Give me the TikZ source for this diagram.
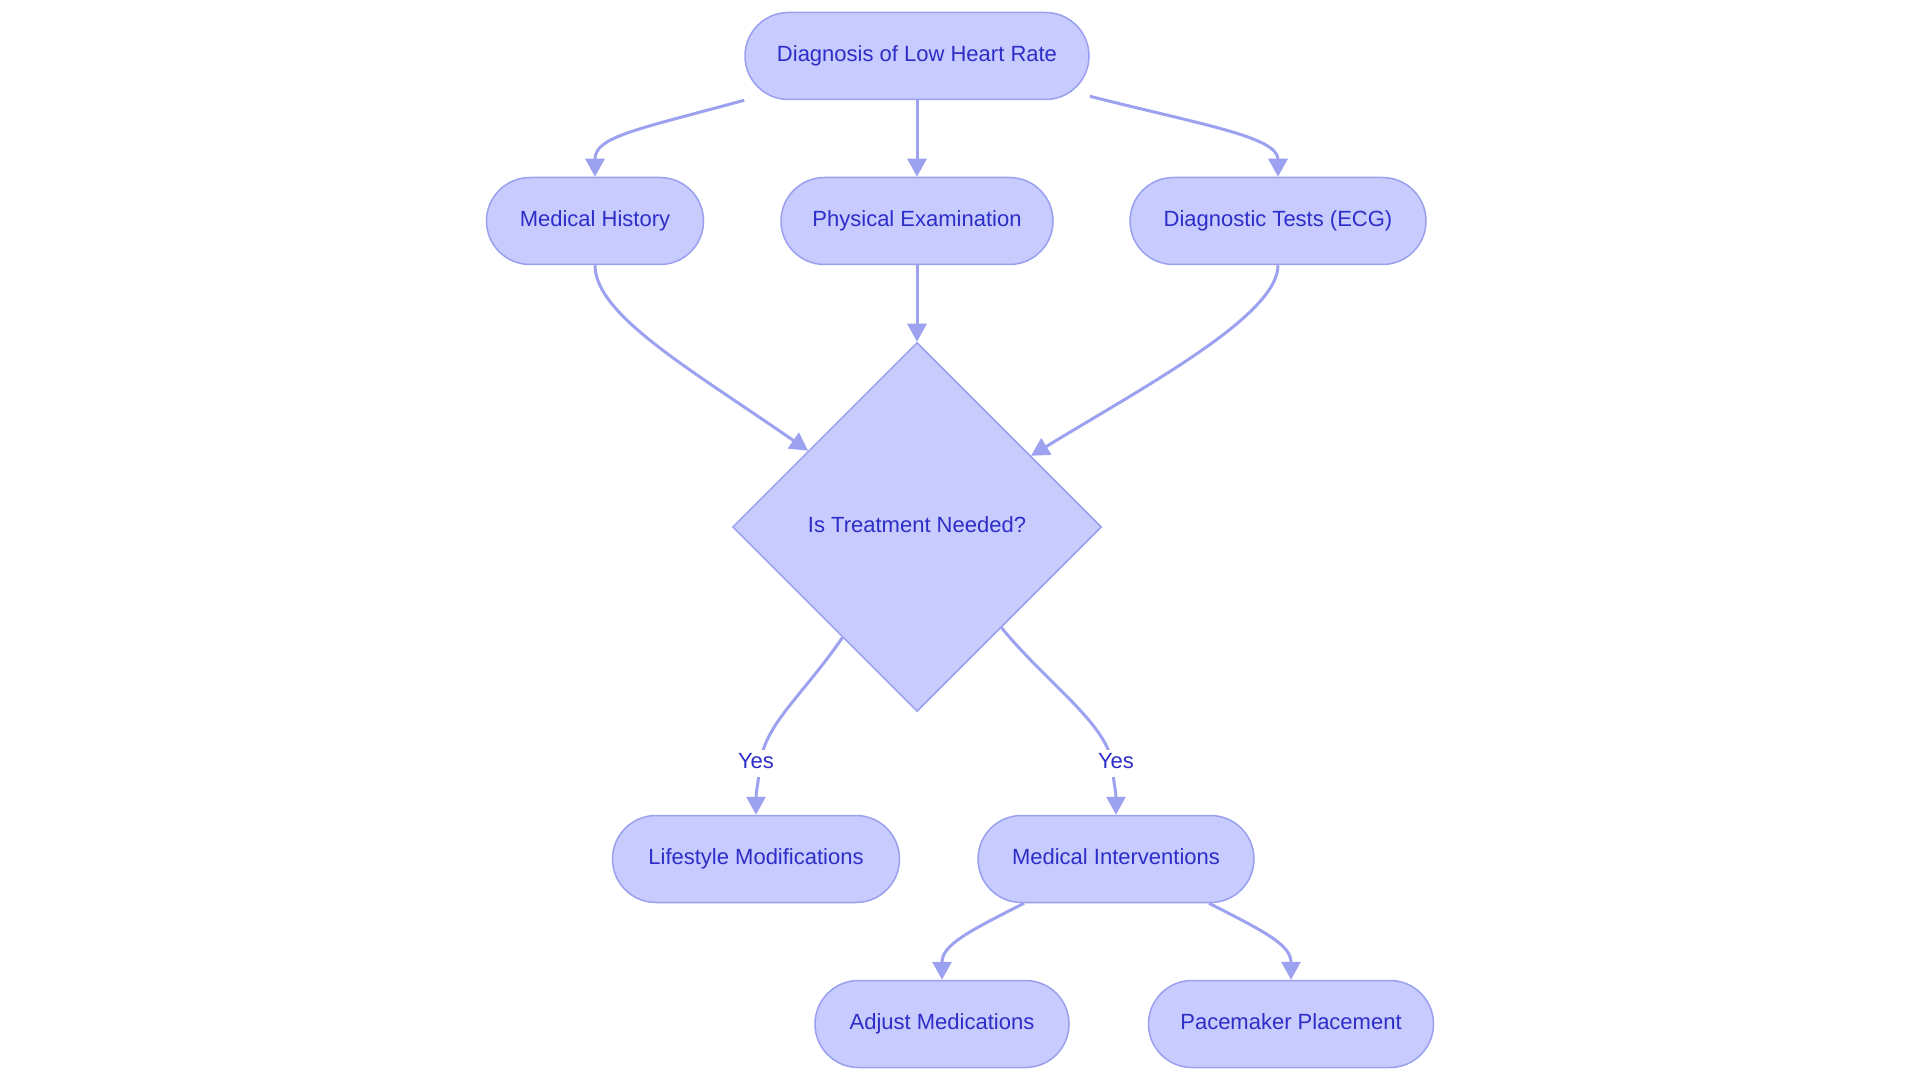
\documentclass[tikz,border=0pt]{standalone}
\usepackage{fontspec}
\setmainfont{Liberation Sans}
\usetikzlibrary{shapes.geometric, arrows.meta, positioning}
\definecolor{nodefill}{RGB}{200,203,253}
\definecolor{nodeline}{RGB}{154,160,240}
\definecolor{nodetext}{RGB}{45,45,200}
\definecolor{edgeline}{RGB}{157,162,240}

\begin{document}
\begin{tikzpicture}[
                        x=1pt, y=-1pt,
                        every node/.style={font=\fontsize{22}{26}\selectfont, text=nodetext, text height=16pt, text depth=5pt},
                        pill/.style={rectangle, rounded corners=43.5pt, draw=nodeline, fill=nodefill, line width=1.5pt, minimum height=87pt, inner sep=0pt},
                        decision/.style={diamond, aspect=1, draw=nodeline, fill=nodefill, line width=1.5pt, minimum width=369pt, minimum height=369pt, inner sep=0pt},
                        link/.style={draw=edgeline, line width=3pt, -{Triangle[width=19pt,length=18pt]}},
                        yeslbl/.style={fill=white, inner sep=3pt}
                        ]

                        \fill[white] (0,0) rectangle (1920,1083);
                        \useasboundingbox (0,0) rectangle (1920,1083);

                        % nodes
                        \node[pill, minimum width=344pt] (diag) at (917,56) {Diagnosis of Low Heart Rate};
                        \node[pill, minimum width=217pt] (hist) at (595,221) {Medical History};
                        \node[pill, minimum width=272pt] (exam) at (917,221) {Physical Examination};
                        \node[pill, minimum width=296pt] (tests) at (1278,221) {Diagnostic Tests (ECG)};
                        \node[decision] (need) at (917,527) {Is Treatment Needed?};
                        \node[pill, minimum width=287pt] (life) at (756,859) {Lifestyle Modifications};
                        \node[pill, minimum width=276pt] (interv) at (1116,859) {Medical Interventions};
                        \node[pill, minimum width=254pt] (meds) at (942,1024) {Adjust Medications};
                        \node[pill, minimum width=285pt] (pace) at (1291,1024) {Pacemaker Placement};
                        \coordinate (yesL) at (756,763);
                        \coordinate (yesR) at (1116,763);
                        \coordinate (viaL) at (760,763);
                        \coordinate (viaR) at (1112,763);

                        % connectors
                        \draw[link] (diag.south west) .. controls +(-110,30) and +(0,-40) .. (hist.north);
                        \draw[link] (diag.south) -- (exam.north);
                        \draw[link] ([yshift=4pt]diag.south east) .. controls +(110,28) and +(0,-40) .. (tests.north);
                        \draw[link] (hist.south) .. controls +(0,50) and +(-115,-80) .. (need.145);
                        \draw[link] (exam.south) -- (need.north);
                        \draw[link] (tests.south) .. controls +(0,50) and +(115,-70) .. (need.32);
                        \draw[link] (need.236) .. controls +(-40,58) and +(6,-40) .. (viaL) .. controls +(-2,25) and +(0,-25) .. (life.north);
                        \draw[link] (need.-50) .. controls +(45,55) and +(-6,-40) .. (viaR) .. controls +(2,25) and +(0,-25) .. (interv.north);
                        \draw[link] ([xshift=-92pt]interv.south) .. controls +(-55,28) and +(0,-35) .. (meds.north);
                        \draw[link] ([xshift=93pt]interv.south) .. controls +(55,28) and +(0,-35) .. (pace.north);

                        % edge labels
                        \node[yeslbl] (yesLtext) at (yesL) {Yes};
                        \node[yeslbl] (yesRtext) at (yesR) {Yes};
                      \end{tikzpicture}
\end{document}
